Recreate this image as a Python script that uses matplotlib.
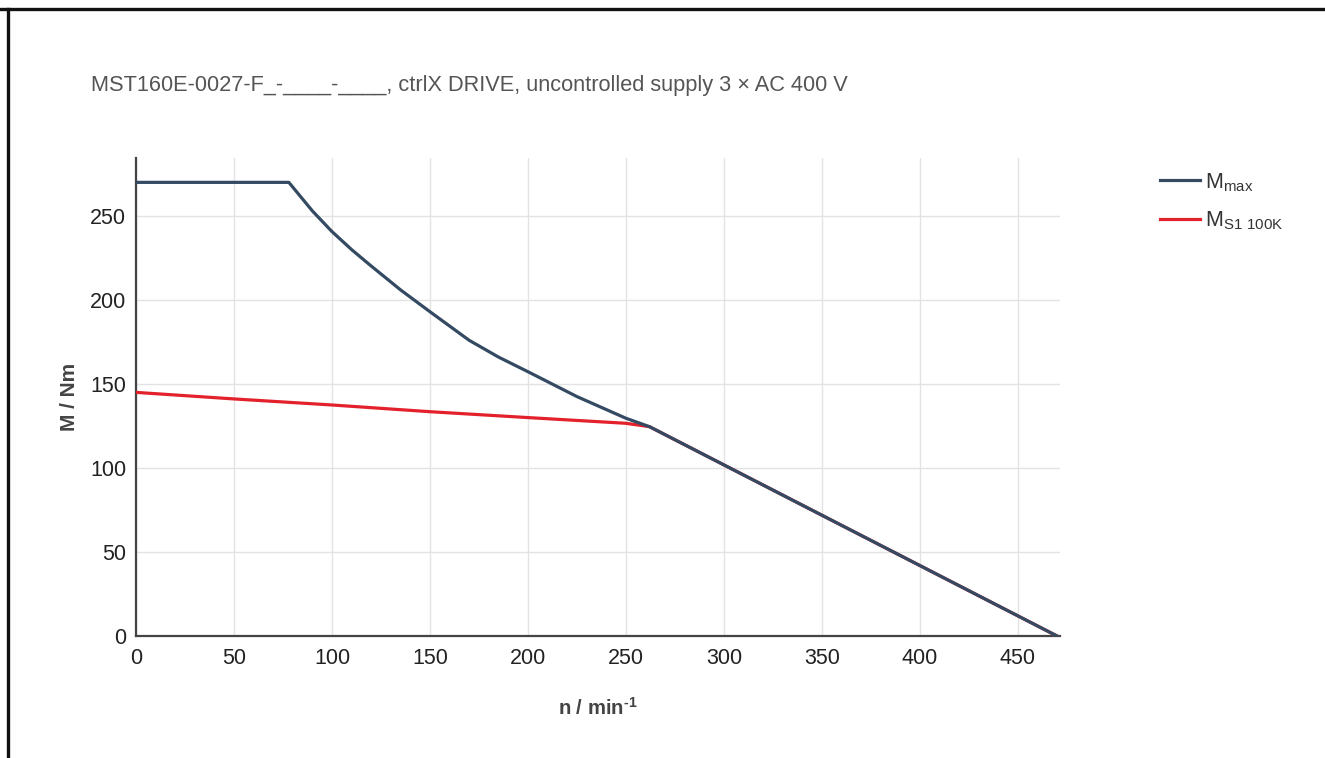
import matplotlib
matplotlib.use('Agg')
import matplotlib.pyplot as plt
from matplotlib.lines import Line2D

plt.rcParams['font.family'] = ['Liberation Sans', 'DejaVu Sans']
plt.rcParams['mathtext.default'] = 'regular'

# speed n / min^-1 and torque M / Nm
n_max = [0, 78, 90, 100, 110, 119.4, 135, 150, 170, 185, 200, 225, 250, 262, 470]
m_max = [270, 270, 253, 240.7, 230, 220.8, 206, 193, 176, 166, 157.3, 142.5, 129.6, 124.6, 0]

n_s1 = [0, 50, 100, 150, 200, 250, 262, 470]
m_s1 = [145, 141.1, 137.5, 133.5, 130, 126.6, 124.6, 0]

labels = ['M$_{max}$', 'M$_{S1\\ 100K}$']
title = 'MST160E-0027-F_-____-____, ctrlX DRIVE, uncontrolled supply 3 × AC 400 V'

navy = '#344a63'
red = '#e3212b'

fig = plt.figure(figsize=(13.25, 7.58), dpi=100)
ax = fig.add_axes([136 / 1325, 1 - 636 / 758, 924 / 1325, 478 / 758])

ax.plot(n_s1, m_s1, color=red, lw=2.3, label=labels[1], zorder=3)
ax.plot(n_max, m_max, color=navy, lw=2.3, label=labels[0], zorder=4)

ax.set_xlim(0, 471.5)
ax.set_ylim(0, 284.5)
ax.set_xticks(range(0, 451, 50))
ax.set_yticks(range(0, 251, 50))
ax.grid(True, color='#e3e3e3', lw=1)
ax.set_axisbelow(True)
for s in ['top', 'right']:
    ax.spines[s].set_visible(False)
for s in ['left', 'bottom']:
    ax.spines[s].set_color('#444444')
    ax.spines[s].set_linewidth(1.6)
ax.tick_params(length=0, labelsize=15.5, colors='#222222')
ax.tick_params(axis='x', pad=9)
ax.tick_params(axis='y', pad=7)

ax.set_xlabel('n / min$^{\u20101}$', fontsize=14.6, fontweight='bold', color='#444444', labelpad=20)
ax.set_ylabel('M / Nm', fontsize=15, fontweight='bold', color='#444444', labelpad=8)

fig.text(91 / 1325, 1 - 85 / 758, title, fontsize=15.7, color='#555555', va='center', ha='left')

h, l = ax.get_legend_handles_labels()
fig.legend(h[::-1], l[::-1], loc='upper left', bbox_to_anchor=(1160 / 1325, 1 - 171 / 758),
           frameon=False, fontsize=15.5, handlelength=1.85, handletextpad=0.25, labelspacing=0.72,
           borderpad=0, borderaxespad=0, labelcolor='#333333')

# screenshot frame
fig.add_artist(Line2D([0, 1], [1 - 9 / 758, 1 - 9 / 758], color='#111111', lw=2.4))
fig.add_artist(Line2D([8 / 1325, 8 / 1325], [0, 1 - 9 / 758], color='#111111', lw=2.4))

fig.savefig('out.png', dpi=100)
